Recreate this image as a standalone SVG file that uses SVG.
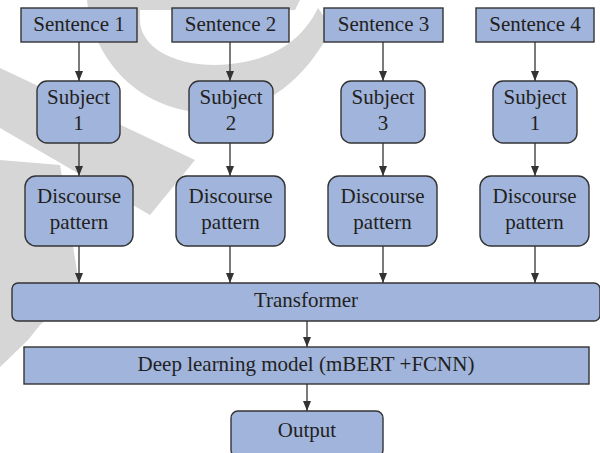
<svg xmlns="http://www.w3.org/2000/svg" width="600" height="453" viewBox="0 0 600 453">
<style>
.box{fill:#a0b4dc;stroke:#333;stroke-width:1.4}
.t{font-family:"Liberation Serif","DejaVu Serif","Times New Roman",serif;font-size:21px;fill:#231f20;text-anchor:middle}
.wm{fill:#d6d6d6}
.c{stroke:#333;stroke-width:1.3;fill:none;marker-end:url(#ah)}
</style>
<defs>
<marker id="ah" markerWidth="10" markerHeight="8" refX="10" refY="4" orient="auto" markerUnits="userSpaceOnUse" viewBox="0 0 10 8">
<path d="M0,0 L10,4 L0,8 Z" fill="#333"/>
</marker>
</defs>
<rect width="600" height="453" fill="#fff"/>
<g id="watermark">
<path class="wm" d="M87,0 C92,60 140,112 210,113 C265,113 305,80 332,28 L318,8 C300,45 265,64 215,65 C170,65 140,45 140,20 L140,10 L295,10 L300,0 Z"/>
<path class="wm" d="M0,68 L195,160 L150,215 L0,128 Z"/>
<path class="wm" d="M0,160 L60,165 L80,290 L40,325 L28,340 L0,367 Z"/>
</g>
<g id="connectors">
<line class="c" x1="79" y1="42" x2="79" y2="81"/>
<line class="c" x1="230" y1="42" x2="230" y2="81"/>
<line class="c" x1="383" y1="42" x2="383" y2="81"/>
<line class="c" x1="535" y1="42" x2="535" y2="81"/>
<line class="c" x1="79" y1="143" x2="79" y2="176"/>
<line class="c" x1="230" y1="143" x2="230" y2="176"/>
<line class="c" x1="383" y1="143" x2="383" y2="176"/>
<line class="c" x1="535" y1="143" x2="535" y2="176"/>
<line class="c" x1="79" y1="246" x2="79" y2="283"/>
<line class="c" x1="230" y1="246" x2="230" y2="283"/>
<line class="c" x1="383" y1="246" x2="383" y2="283"/>
<line class="c" x1="535" y1="246" x2="535" y2="283"/>
<line class="c" x1="307" y1="321" x2="307" y2="347"/>
<line class="c" x1="307" y1="384" x2="307" y2="411"/>
</g>
<g id="sentence1"><rect class="box" x="21" y="8" width="116" height="34"/><text class="t" x="79" y="31">Sentence 1</text></g>
<g id="sentence2"><rect class="box" x="172" y="8" width="117" height="34"/><text class="t" x="230.5" y="31">Sentence 2</text></g>
<g id="sentence3"><rect class="box" x="324" y="8" width="119" height="34"/><text class="t" x="383.5" y="31">Sentence 3</text></g>
<g id="sentence4"><rect class="box" x="476" y="8" width="118" height="34"/><text class="t" x="535" y="31">Sentence 4</text></g>
<g id="subject1"><rect class="box" x="37" y="81" width="83" height="62" rx="10"/><text class="t" x="78.5" y="104">Subject</text><text class="t" x="78.5" y="130">1</text></g>
<g id="subject2"><rect class="box" x="189" y="81" width="84" height="62" rx="10"/><text class="t" x="231" y="104">Subject</text><text class="t" x="231" y="130">2</text></g>
<g id="subject3"><rect class="box" x="341" y="81" width="84" height="62" rx="10"/><text class="t" x="383" y="104">Subject</text><text class="t" x="383" y="130">3</text></g>
<g id="subject4"><rect class="box" x="493" y="81" width="84" height="62" rx="10"/><text class="t" x="535" y="104">Subject</text><text class="t" x="535" y="130">1</text></g>
<g id="discourse1"><rect class="box" x="25" y="176" width="108" height="70" rx="11"/><text class="t" x="79" y="203">Discourse</text><text class="t" x="79" y="229">pattern</text></g>
<g id="discourse2"><rect class="box" x="176" y="176" width="109" height="70" rx="11"/><text class="t" x="230.5" y="203">Discourse</text><text class="t" x="230.5" y="229">pattern</text></g>
<g id="discourse3"><rect class="box" x="328" y="176" width="109" height="70" rx="11"/><text class="t" x="382.5" y="203">Discourse</text><text class="t" x="382.5" y="229">pattern</text></g>
<g id="discourse4"><rect class="box" x="480" y="176" width="109" height="70" rx="11"/><text class="t" x="534.5" y="203">Discourse</text><text class="t" x="534.5" y="229">pattern</text></g>
<g id="transformer"><rect class="box" x="12" y="283" width="588" height="38" rx="6"/><text class="t" x="306" y="307">Transformer</text></g>
<g id="deep"><rect class="box" x="24" y="347" width="565" height="37"/><text class="t" x="306" y="371">Deep learning model (mBERT +FCNN)</text></g>
<g id="output"><rect class="box" x="231" y="411" width="152" height="46" rx="7"/><text class="t" x="307" y="437">Output</text></g>
</svg>
